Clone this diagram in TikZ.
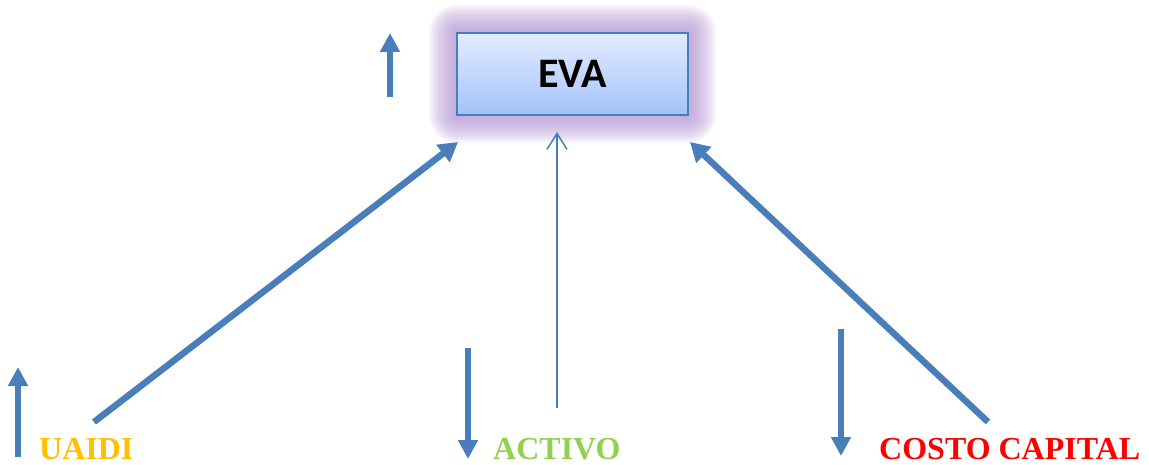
\documentclass[tikz,border=0pt]{standalone}
\usepackage{fontspec}
\setmainfont{Liberation Serif}
\newfontfamily\boxfont{Carlito}
\usetikzlibrary{arrows.meta}
\definecolor{arrowblue}{RGB}{74,126,187}
\definecolor{glowpurple}{RGB}{178,148,210}
\definecolor{boxtop}{RGB}{226,236,255}
\definecolor{boxbottom}{RGB}{164,195,250}
\definecolor{lblgold}{RGB}{255,192,0}
\definecolor{lblgreen}{RGB}{146,208,80}
\definecolor{lblred}{RGB}{255,0,0}
\tikzset{
  evabox/.style={draw=arrowblue, line width=1.5pt, top color=boxtop, bottom color=boxbottom,
    minimum width=231pt, minimum height=82pt, inner sep=0pt,
    font=\boxfont\bfseries\fontsize{42}{44}\selectfont},
  lbl/.style={anchor=base west, inner sep=0pt, font=\bfseries\fontsize{32}{34}\selectfont},
  bigarrow/.style={draw=arrowblue, line width=6.5pt, -{Triangle[length=19pt,width=21pt]}},
  trend/.style={draw=arrowblue, line width=6pt, -{Triangle[length=19pt,width=19pt]}},
  thinarrow/.style={draw=arrowblue, line width=1.5pt, -{Straight Barb[length=16pt,width=20pt]}}
}
\begin{document}
\begin{tikzpicture}[x=1pt,y=-1pt]
\useasboundingbox (0,0) rectangle (1149,465);
% soft purple glow round the EVA box
\foreach \r in {28,26,...,2}
  \fill[glowpurple, opacity=0.095, rounded corners=\r pt]
    (457-\r,33-\r) rectangle (688+\r,115+\r);
\node[evabox] (eva) at (572.5,74) {EVA};

% labels
\node[lbl, text=lblgold] (uaidi) at (39,459) {UAIDI};
\node[lbl, text=lblgreen] (activo) at (493,459) {ACTIVO};
\node[lbl, text=lblred] (costo) at (879,459) {COSTO CAPITAL};

% connector ends
\coordinate (uaidiStart) at (94,422);
\coordinate (uaidiEnd) at (458,142);
\coordinate (activoStart) at (557,408);
\coordinate (activoEnd) at (557,132);
\coordinate (costoStart) at (988,422);
\coordinate (costoEnd) at (690,142);

\draw[bigarrow] (uaidiStart) -- (uaidiEnd);
\draw[thinarrow] (activoStart) -- (activoEnd);
\draw[bigarrow] (costoStart) -- (costoEnd);

% trend arrows
\coordinate (evaUpA) at (390,97);
\coordinate (evaUpB) at (390,33);
\coordinate (uaidiUpA) at (18,457);
\coordinate (uaidiUpB) at (18,367);
\coordinate (activoDnA) at (468,348);
\coordinate (activoDnB) at (468,459);
\coordinate (costoDnA) at (841,329);
\coordinate (costoDnB) at (841,456);
\draw[trend] (evaUpA) -- (evaUpB);
\draw[trend] (uaidiUpA) -- (uaidiUpB);
\draw[trend] (activoDnA) -- (activoDnB);
\draw[trend] (costoDnA) -- (costoDnB);
\end{tikzpicture}
\end{document}
